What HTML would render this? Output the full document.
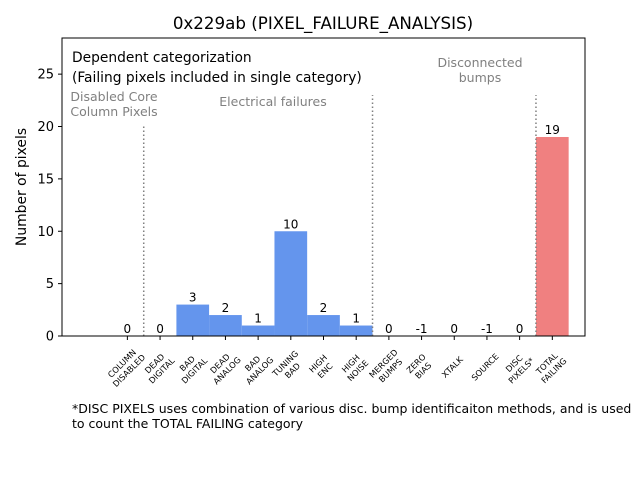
<!DOCTYPE html>
<html><head><meta charset="utf-8"><style>
body{margin:0;background:#fff;font-family:"Liberation Sans","DejaVu Sans",sans-serif}
</style></head><body>
<svg id="chart" width="640" height="480" xmlns="http://www.w3.org/2000/svg" font-family="DejaVu Sans, Liberation Sans, sans-serif">
<rect width="640" height="480" fill="#fff"/>
<text x="323" y="29" font-size="16.7" text-anchor="middle">0x229ab (PIXEL_FAILURE_ANALYSIS)</text>
<g id="plot"></g>
<rect x="62" y="38" width="523" height="298" fill="none" stroke="#000" stroke-width="1"/>
<text transform="translate(26,187) rotate(-90)" font-size="13.9" text-anchor="middle">Number of pixels</text>
<text x="72" y="62" font-size="13.8">Dependent categorization</text>
<text x="72" y="82" font-size="13.8">(Failing pixels included in single category)</text>
<text font-size="12.5" fill="#808080" text-anchor="middle"><tspan x="114" y="101">Disabled Core</tspan><tspan x="114" y="116">Column Pixels</tspan></text>
<text x="273" y="106" font-size="12.5" fill="#808080" text-anchor="middle">Electrical failures</text>
<text font-size="12.5" fill="#808080" text-anchor="middle"><tspan x="480" y="67">Disconnected</tspan><tspan x="480" y="82">bumps</tspan></text>
<text font-size="12.5"><tspan x="72" y="413">*DISC PIXELS uses combination of various disc. bump identificaiton methods, and is used</tspan><tspan x="72" y="428">to count the TOTAL FAILING category</tspan></text>
</svg>
<script>
const categories=[["COLUMN","DISABLED"],["DEAD","DIGITAL"],["BAD","DIGITAL"],["DEAD","ANALOG"],["BAD","ANALOG"],["TUNING","BAD"],["HIGH","ENC"],["HIGH","NOISE"],["MERGED","BUMPS"],["ZERO","BIAS"],["XTALK"],["SOURCE"],["DISC","PIXELS*"],["TOTAL","FAILING"]];
const values=[0,0,3,2,1,10,2,1,0,-1,0,-1,0,19];
const yTicks=[0,5,10,15,20,25];
const separators=[[0.5,20],[7.5,23],[12.5,23]];
const NS="http://www.w3.org/2000/svg";
const L=62,R=585,T=38,B=336,xmin=-2,xmax=14,ymax=28.45;
const xs=v=>L+(v-xmin)/(xmax-xmin)*(R-L);
const ys=v=>B-v/ymax*(B-T);
const g=document.getElementById('plot');
function mk(t,a){const e=document.createElementNS(NS,t);for(const k in a)e.setAttribute(k,a[k]);g.appendChild(e);return e;}
const bw=xs(1)-xs(0);
values.forEach((v,i)=>{
 const top=ys(Math.max(v,0));
 const r=mk('rect',{x:xs(i)-bw/2,y:top,width:bw,height:B-top,fill:i===values.length-1?'#F08080':'#6495ED'});
 
 
 const t=mk('text',{x:xs(i),y:top-3,'font-size':12,'text-anchor':'middle'});
 t.textContent=v;
 
 
 const tk=mk('line',{x1:xs(i),x2:xs(i),y1:B,y2:B+4,stroke:'#000'});
 
 
 const lab=mk('text',{transform:`translate(${xs(i)-2},${B+31}) rotate(-45)`,'font-size':8.3,'text-anchor':'middle'});
 
 
 const n=categories[i].length;
 categories[i].forEach((s,j)=>{const ts=document.createElementNS(NS,'tspan');ts.setAttribute('x',0);ts.setAttribute('y',(j-(n-1)/2)*10+3);ts.textContent=s;lab.appendChild(ts);});
});
yTicks.forEach(v=>{
 const l=mk('line',{x1:L-4,x2:L,y1:ys(v),y2:ys(v),stroke:'#000'});
 
 
 const t=mk('text',{x:L-8,y:ys(v)+4.5,'font-size':13,'text-anchor':'end'});
 t.textContent=v;
 
 
});
separators.forEach((s,i)=>{
 const l=mk('line',{x1:xs(s[0]),x2:xs(s[0]),y1:B,y2:ys(s[1]),stroke:'#808080','stroke-width':1.5,'stroke-dasharray':'1.5,2.5'});
 
 
});
</script>
</body></html>
